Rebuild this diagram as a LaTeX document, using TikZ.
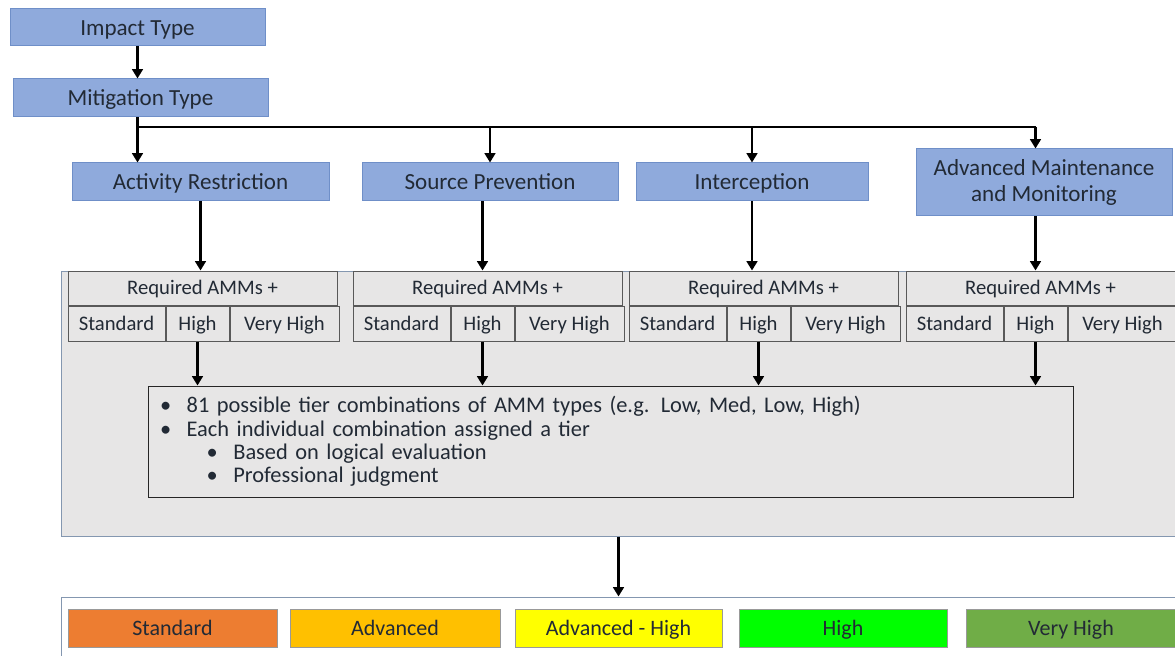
\documentclass[tikz,border=0pt]{standalone}
\usepackage{fontspec}
\setmainfont{Carlito}
\usetikzlibrary{positioning,arrows.meta}

\definecolor{bluefill}{HTML}{8FAADC}
\definecolor{bluedge}{HTML}{6F8FC8}
\definecolor{panelgray}{HTML}{E7E6E6}
\definecolor{paneledge}{HTML}{8497B0}
\definecolor{cellline}{HTML}{595959}
\definecolor{inkdark}{HTML}{222A35}
\definecolor{lvlstd}{HTML}{ED7D31}
\definecolor{lvladv}{HTML}{FFC000}
\definecolor{lvladvhigh}{HTML}{FFFF00}
\definecolor{lvlhigh}{HTML}{00FF00}
\definecolor{lvlvhigh}{HTML}{70AD47}

\begin{document}
\begin{tikzpicture}[x=0.75pt,y=-0.75pt,
  topbox/.style={draw=bluedge,fill=bluefill,text=inkdark,line width=0.75pt,inner sep=0pt,
    align=center,font=\fontsize{17.3}{20}\selectfont},
  oneline/.style={text height=12pt,text depth=0.6pt},
  cell/.style={draw=cellline,fill=panelgray,text=inkdark,line width=0.75pt,inner sep=0pt,
    minimum height=26.25pt,text height=11pt,text depth=0.8pt,font=\fontsize{15.5}{18}\selectfont},
  panelbox/.style={draw=paneledge,line width=0.75pt,inner sep=0pt},
  level/.style={draw=gray!80,text=inkdark,line width=0.75pt,inner sep=0pt,
    minimum height=28.5pt,text height=11.5pt,text depth=0.6pt,font=\fontsize{16.5}{18}\selectfont},
  arr/.style={-{Triangle[width=8pt,length=7pt]},line width=2.2pt}]
\path[use as bounding box,fill=white] (0,0) rectangle (1175,656);

% top of the tree
\node[topbox,oneline,minimum width=191.25pt,minimum height=27.75pt] (impact) at (137.5,27.5) {Impact Type};
\node[topbox,oneline,minimum width=191.25pt,minimum height=28.5pt] (mitig) at (140.5,98) {Mitigation Type};
\coordinate (split) at (137.5,127);

\node[topbox,oneline,minimum width=192.75pt,minimum height=28.5pt] (act) at (200.5,182) {Activity Restriction};
\node[topbox,oneline,minimum width=192pt,minimum height=28.5pt] (src) at (490,182) {Source Prevention};
\node[topbox,oneline,minimum width=174pt,minimum height=28.5pt] (icp) at (752,182) {Interception};
\node[topbox,minimum width=192pt,minimum height=50.25pt] (amm) at (1044,182.5) {Advanced Maintenance\\and Monitoring};

% AMM panel
\node[panelbox,fill=panelgray,minimum width=836.25pt,minimum height=198.75pt] (panel) at (618.5,403.5) {};

\node[cell,minimum width=201.75pt,minimum height=25.5pt] (req1) at (202.5,288) {Required AMMs +};
\node[cell,anchor=north west,minimum width=72.75pt] (std1) at (req1.south west) {Standard};
\node[cell,right=0pt of std1,minimum width=47.25pt] (high1) {High};
\node[cell,right=0pt of high1,minimum width=81.75pt] (vh1) {Very High};

\node[cell,minimum width=201.75pt,minimum height=25.5pt] (req2) at (487.5,288) {Required AMMs +};
\node[cell,anchor=north west,minimum width=72.75pt] (std2) at (req2.south west) {Standard};
\node[cell,right=0pt of std2,minimum width=47.25pt] (high2) {High};
\node[cell,right=0pt of high2,minimum width=81.75pt] (vh2) {Very High};

\node[cell,minimum width=201.75pt,minimum height=25.5pt] (req3) at (763.5,288) {Required AMMs +};
\node[cell,anchor=north west,minimum width=72.75pt] (std3) at (req3.south west) {Standard};
\node[cell,right=0pt of std3,minimum width=47.25pt] (high3) {High};
\node[cell,right=0pt of high3,minimum width=81.75pt] (vh3) {Very High};

\node[cell,minimum width=201.75pt,minimum height=25.5pt] (req4) at (1040.5,288) {Required AMMs +};
\node[cell,anchor=north west,minimum width=72.75pt] (std4) at (req4.south west) {Standard};
\node[cell,right=0pt of std4,minimum width=47.25pt] (high4) {High};
\node[cell,right=0pt of high4,minimum width=81.75pt] (vh4) {Very High};

\node[draw=black!85,fill=panelgray,line width=0.75pt,text=inkdark,inner xsep=9pt,inner ysep=0pt,
  text width=675.75pt,minimum height=83.25pt,align=left,font=\fontsize{16.8}{17.6}\selectfont]
  (bullets) at (610.5,441.5)
  {\makebox[20pt][l]{\textbullet}81 possible tier combinations of AMM types (e.g. Low, Med, Low, High)\\
   \makebox[20pt][l]{\textbullet}Each individual combination assigned a tier\\
   \hspace*{35pt}\makebox[20pt][l]{\textbullet}Based on logical evaluation\\
   \hspace*{35pt}\makebox[20pt][l]{\textbullet}Professional judgment};

% tiers
\node[panelbox,minimum width=836.25pt,minimum height=51pt] (levels) at (618.5,631) {};
\node[level,fill=lvlstd,minimum width=156.75pt] (lstd) at (172.5,628) {Standard};
\node[level,fill=lvladv,minimum width=157.5pt] (ladv) at (395,628) {Advanced};
\node[level,fill=lvladvhigh,minimum width=155.25pt] (ladvhigh) at (618.5,628) {Advanced - High};
\node[level,fill=lvlhigh,minimum width=156pt] (lhigh) at (843,628) {High};
\node[level,fill=lvlvhigh,minimum width=157.5pt] (lvhigh) at (1071,628) {Very High};

\draw[arr] (impact.south) -- (impact.south |- mitig.north);
\draw[arr] (mitig.south -| split) -- (act.north -| split);
\draw[line width=2.2pt] (split) -- (split -| high4);
\draw[arr] (split -| src) -- (src.north);
\draw[arr] (split -| icp) -- (icp.north);
\draw[arr] (split -| high4) -- (amm.north -| high4);

\draw[arr] (act.south) -- (act.south |- req1.north);
\draw[arr] (src.south -| high2) -- (req2.north -| high2);
\draw[arr] (icp.south) -- (icp.south |- req3.north);
\draw[arr] (amm.south -| high4) -- (req4.north -| high4);

\draw[arr] (high1.south) -- (high1.south |- bullets.north);
\draw[arr] (high2.south) -- (high2.south |- bullets.north);
\draw[arr] (high3.south) -- (high3.south |- bullets.north);
\draw[arr] (high4.south) -- (high4.south |- bullets.north);

\draw[arr] (panel.south) -- (levels.north);
\end{tikzpicture}
\end{document}
